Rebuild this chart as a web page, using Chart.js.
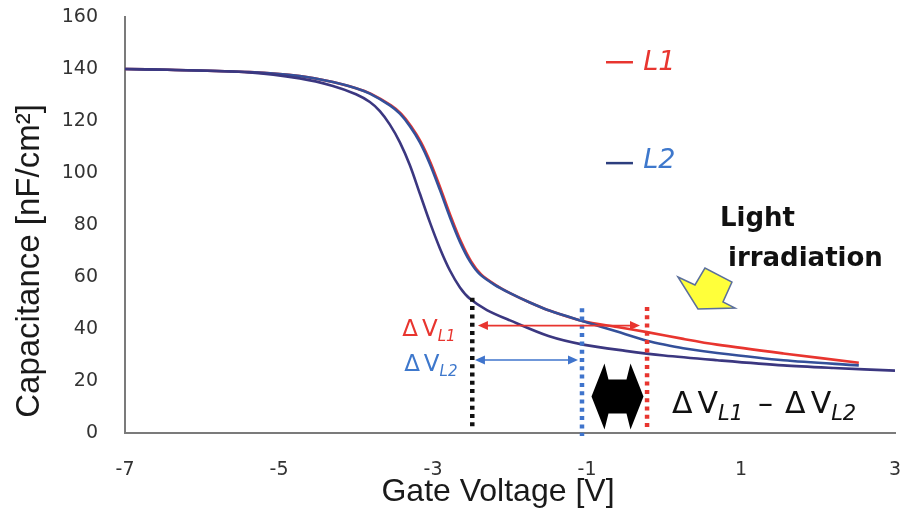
<!DOCTYPE html>
<html>
<head>
<meta charset="utf-8">
<script src="https://cdn.jsdelivr.net/npm/chart.js@4.4.1/dist/chart.umd.min.js"></script>
<style>
  html, body { margin: 0; padding: 0; background: #fff; }
</style>
</head>
<body>
<canvas id="cv" width="901" height="515"></canvas>
<script>
// C-V curves: gate voltage [V] -> capacitance [nF/cm2]
const darkV = [-7, -6.45, -5.38, -4.73, -4.3, -4.0, -3.82, -3.69, -3.56, -3.43, -3.3, -3.17, -3.04, -2.91, -2.78, -2.65, -2.52, -2.3, -2.0, -1.5, -1.05, -0.5, 0, 0.69, 1.55, 2.2, 3];
const darkC = [140, 139.7, 138.7, 136.4, 133.5, 130.3, 127.3, 123.8, 118.6, 111.8, 103, 92, 81, 71, 62.5, 56, 51.6, 47.3, 43.3, 37.3, 34, 31.6, 29.8, 28, 26, 25, 24];

const l2V = [-7, -6.45, -5.38, -4.73, -4.3, -4.0, -3.82, -3.56, -3.43, -3.3, -3.17, -3.04, -2.91, -2.78, -2.65, -2.52, -2.39, -2.2, -2.0, -1.75, -1.48, -1.05, -0.61, -0.22, 0, 0.25, 0.69, 1.55, 2.53];
const l2C = [140, 139.7, 138.8, 137.3, 135, 132.6, 130.5, 126, 122.8, 118, 111.8, 103.5, 93.5, 83, 73.5, 66, 61, 57, 53.8, 50.3, 47, 43, 39, 35.5, 34, 32.6, 30.8, 28, 26];

const l1V = [-7, -6.45, -5.38, -4.73, -4.3, -4.0, -3.81, -3.545, -3.415, -3.285, -3.155, -3.025, -2.895, -2.765, -2.635, -2.505, -2.375, -2.19, -2.0, -1.75, -1.48, -1.05, -0.61, -0.22, 0.25, 0.69, 1.55, 2.53];
const l1C = [140, 139.7, 138.8, 137.3, 135, 132.6, 130.5, 126, 122.8, 118, 111.8, 103.5, 93.5, 83, 73.5, 66, 61, 57, 53.8, 50.3, 47, 43, 40.8, 38.8, 36.2, 34, 30.6, 27];

const xTicks = [-7, -5, -3, -1, 1, 3];
const yTicks = [0, 20, 40, 60, 80, 100, 120, 140, 160];

// threshold markers (dotted verticals): voltage, top, bottom
const markV = [-2.49, -1.065, -0.22];
const markTop = [52, 48, 48.5];
const markBottom = [1.2, -1.2, 1.5];
const markColors = ['#111111', '#3f74cc', '#e8352f'];

const RED = '#e8352f';
const BLUE_TXT = '#3e78cc';

const pts = (xs, ys) => xs.map((x, i) => ({ x: x, y: ys[i] }));

const markerSets = markV.map((v, i) => ({
  label: 'mark' + i,
  data: [{ x: v, y: markTop[i] }, { x: v, y: markBottom[i] }],
  borderColor: markColors[i],
  borderWidth: 4.5,
  borderDash: [4, 4.3],
  borderCapStyle: 'butt',
  pointRadius: 0,
  clip: false
}));

const curve = (label, data, color) => ({
  label: label,
  data: data,
  borderColor: color,
  borderWidth: 2.6,
  pointRadius: 0,
  tension: 0.3,
  fill: false
});

// annotation helpers, anchors in data units, shapes in px offsets
function tri(ctx, x, y, dir, len, half) {
  ctx.beginPath();
  ctx.moveTo(x, y);
  ctx.lineTo(x - dir * len, y - half);
  ctx.lineTo(x - dir * len, y + half);
  ctx.closePath();
  ctx.fill();
}

function doubleArrow(ctx, x1, x2, y, color) {
  ctx.save();
  ctx.strokeStyle = color;
  ctx.fillStyle = color;
  ctx.lineWidth = 1.6;
  ctx.beginPath();
  ctx.moveTo(x1 + 6, y);
  ctx.lineTo(x2 - 6, y);
  ctx.stroke();
  tri(ctx, x1, y, -1, 10, 4.5);
  tri(ctx, x2, y, 1, 10, 4.5);
  ctx.restore();
}

function poly(ctx, cx, cy, offs) {
  ctx.beginPath();
  offs.forEach((p, i) => i ? ctx.lineTo(cx + p[0], cy + p[1]) : ctx.moveTo(cx + p[0], cy + p[1]));
  ctx.closePath();
}

function deltaLabel(ctx, x, y, color, sub, size, subSize, gap) {
  ctx.fillStyle = color;
  ctx.textBaseline = 'alphabetic';
  ctx.textAlign = 'left';
  ctx.font = size + 'px "DejaVu Sans"';
  ctx.fillText('Δ', x, y);
  const w = ctx.measureText('Δ').width;
  ctx.fillText('V', x + w + gap, y);
  const wv = ctx.measureText('V').width;
  ctx.font = 'italic ' + subSize + 'px "DejaVu Sans"';
  ctx.fillText(sub, x + w + gap + wv, y + size * 0.22);
  return x + w + gap + wv + ctx.measureText(sub).width;
}

const notes = {
  id: 'notes',
  afterDatasetsDraw(chart) {
    const ctx = chart.ctx;
    const X = v => chart.scales.x.getPixelForValue(v);
    const Y = c => chart.scales.y.getPixelForValue(c);
    ctx.save();

    // legend
    [['L1', RED, RED, 142.6, 142.3], ['L2', '#2c3e7e', BLUE_TXT, 103.8, 104.8]].forEach(l => {
      ctx.strokeStyle = l[1];
      ctx.lineWidth = 2.5;
      ctx.beginPath();
      ctx.moveTo(X(-0.753), Y(l[3]));
      ctx.lineTo(X(-0.403), Y(l[3]));
      ctx.stroke();
      ctx.fillStyle = l[2];
      ctx.font = 'italic 27px "DejaVu Sans"';
      ctx.textAlign = 'left';
      ctx.textBaseline = 'middle';
      ctx.fillText(l[0], X(-0.27), Y(l[4]));
    });

    // delta V arrows
    doubleArrow(ctx, X(-2.416), X(-0.312), Y(41.3), RED);
    doubleArrow(ctx, X(-2.455), X(-1.117), Y(28.1), '#3f74cc');
    deltaLabel(ctx, X(-3.4), Y(37.2), RED, 'L1', 23, 15, 4);
    deltaLabel(ctx, X(-3.375), Y(24.0), BLUE_TXT, 'L2', 23, 15, 4);

    // big black double arrow
    ctx.fillStyle = '#000';
    poly(ctx, X(-0.604), Y(14.0), [[-26, 0], [-13, -33], [-9, -17], [9, -17], [13, -33], [26, 0], [13, 33], [9, 17], [-9, 17], [-13, 33]]);
    ctx.fill();

    // difference label
    let x0 = deltaLabel(ctx, X(0.104), Y(7.7), '#111', 'L1', 30, 21, 5);
    ctx.font = '30px "DejaVu Sans"';
    ctx.fillStyle = '#111';
    ctx.fillText('–', x0 + 15, Y(7.7));
    deltaLabel(ctx, x0 + 42, Y(7.7), '#111', 'L2', 30, 21, 5);

    // light irradiation
    ctx.font = 'bold 26px "DejaVu Sans"';
    ctx.fillStyle = '#111';
    ctx.textBaseline = 'alphabetic';
    ctx.fillText('Light', X(0.727), Y(79.6));
    ctx.fillText('irradiation', X(0.831), Y(64.2));

    ctx.fillStyle = '#ffff3a';
    ctx.strokeStyle = '#5b6f9c';
    ctx.lineWidth = 1.5;
    ctx.lineJoin = 'miter';
    poly(ctx, X(0.571), Y(55.0), [[-30, -13], [-13, -5], [-3, -22], [24, -8], [15, 12], [27, 18], [-10, 19]]);
    ctx.fill();
    ctx.stroke();

    ctx.restore();
  },
  afterDraw(chart) {
    const ctx = chart.ctx;
    ctx.save();
    ctx.fillStyle = '#1a1a1a';
    ctx.font = '32px "Liberation Sans"';
    ctx.textAlign = 'center';
    ctx.textBaseline = 'middle';
    ctx.fillText('Gate Voltage [V]', 498, 492);
    ctx.translate(30, 261);
    ctx.rotate(-Math.PI / 2);
    ctx.font = '33px "Liberation Sans"';
    ctx.fillText('Capacitance [nF/cm²]', 0, 0);
    ctx.restore();
  }
};

const tickFont = { family: 'DejaVu Sans', size: 19 };

new Chart(document.getElementById('cv'), {
  type: 'line',
  data: {
    datasets: [
      ...markerSets,
      curve('dark', pts(darkV, darkC), '#3b3780'),
      curve('L2', pts(l2V, l2C), '#34509a'),
      curve('L1', pts(l1V, l1C), RED)
    ]
  },
  options: {
    responsive: false,
    animation: false,
    devicePixelRatio: 1,
    layout: { padding: { top: 17, right: 6, left: 0, bottom: 0 } },
    plugins: { legend: { display: false }, tooltip: { enabled: false } },
    scales: {
      x: {
        type: 'linear',
        min: -7,
        max: 3,
        afterBuildTicks: s => { s.ticks = xTicks.map(v => ({ value: v })); },
        afterFit: s => { s.height = 82; s.paddingLeft = 0; s.paddingRight = 0; },
        grid: { display: false, drawTicks: false },
        border: { display: true, color: '#7b7b7b', width: 2 },
        ticks: { padding: 26, color: '#333333', font: tickFont, maxRotation: 0, autoSkip: false }
      },
      y: {
        type: 'linear',
        min: 0,
        max: 160,
        afterBuildTicks: s => { s.ticks = yTicks.map(v => ({ value: v })); },
        afterFit: s => { s.width = 125; s.paddingTop = 0; s.paddingBottom = 0; },
        grid: { display: false, drawTicks: false },
        border: { display: true, color: '#7b7b7b', width: 2 },
        ticks: { padding: 27, color: '#333333', font: tickFont }
      }
    }
  },
  plugins: [notes]
});
</script>
</body>
</html>
